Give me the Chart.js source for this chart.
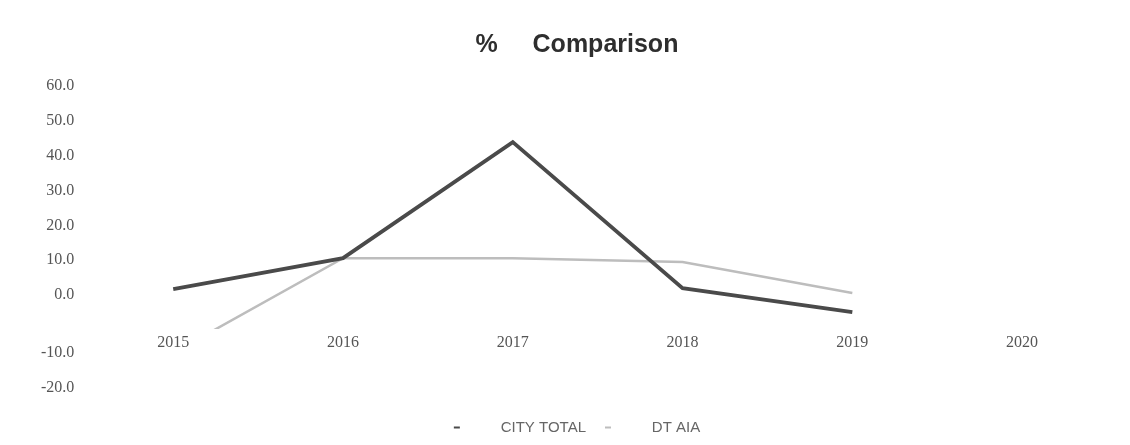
<!DOCTYPE html>
<html>
<head>
<meta charset="utf-8">
<title>% Comparison</title>
<script src="https://cdn.jsdelivr.net/npm/chart.js@4"></script>
<style>
    html, body { margin: 0; padding: 0; background: #fff; }
    #wrap { width: 1130px; height: 445px; }
</style>
</head>
<body>
<div id="wrap"><canvas id="comparisonChart"></canvas></div>
<script>
const years = ['2015', '2016', '2017', '2018', '2019', '2020'];
const cityTotal = [1.7, 10.6, 43.9, 2.0, -4.9, null];
const dtAia = [-16.6, 10.6, 10.6, 9.5, 0.6, null];

// value axis: stops and the text shown at each one
// (the two negative labels sit lower than a linear axis would put them)
const yTickStops = [60, 50, 40, 30, 20, 10, 0, -16.7, -26.7];
const yTickLabels = ['60.0', '50.0', '40.0', '30.0', '20.0', '10.0', '0.0', '-10.0', '-20.0'];

const ctx = document.getElementById('comparisonChart').getContext('2d');

const legendLabels = chart => {
    const items = Chart.defaults.plugins.legend.labels.generateLabels(chart);
    items.forEach(item => {
        item.text = '        ' + item.text;
        item.lineWidth = 0;
        item.fillStyle = item.strokeStyle;
    });
    return items;
};

new Chart(ctx, {
    type: 'line',
    data: {
        labels: years,
        datasets: [
            {
                label: 'CITY TOTAL',
                data: cityTotal,
                borderColor: '#4a4a4a',
                backgroundColor: '#4a4a4a',
                borderWidth: 3.8,
                pointRadius: 0,
                tension: 0
            },
            {
                label: 'DT AIA',
                data: dtAia,
                borderColor: '#bdbdbd',
                backgroundColor: '#bdbdbd',
                borderWidth: 2.5,
                pointRadius: 0,
                tension: 0,
                // stop the line where the plot band ends, above the lower labels
                clip: { left: false, top: false, right: false, bottom: -72 }
            }
        ]
    },
    options: {
        responsive: true,
        maintainAspectRatio: false,
        animation: false,
        layout: {
            padding: { left: 27, right: 3, top: 0, bottom: 0 }
        },
        scales: {
            x: {
                type: 'category',
                offset: true,
                position: { y: -10 },
                grid: { display: false, drawTicks: false },
                border: { display: false },
                ticks: {
                    padding: 3,
                    color: '#555',
                    font: { family: '"Liberation Serif", "Times New Roman", serif', size: 16 }
                }
            },
            y: {
                type: 'linear',
                min: -30.4,
                max: 60,
                grid: { display: false, drawTicks: false },
                border: { display: false },
                afterBuildTicks: axis => {
                    axis.ticks = yTickStops.map(v => ({ value: v }));
                },
                ticks: {
                    padding: 14,
                    autoSkip: false,
                    color: '#555',
                    font: { family: '"Liberation Serif", "Times New Roman", serif', size: 16 },
                    callback: value => yTickLabels[yTickStops.indexOf(value)]
                }
            },
            // empty right-hand axis, only there to leave a margin right of the plot
            spacer: {
                type: 'linear',
                position: 'right',
                grid: { display: false, drawTicks: false },
                border: { display: false },
                ticks: { display: false },
                afterFit: axis => {
                    axis.width = 20;
                }
            }
        },
        plugins: {
            title: {
                display: true,
                text: '%     Comparison',
                color: '#2e2e2e',
                font: { family: '"Liberation Sans", Arial, sans-serif', size: 25, weight: 'bold' },
                padding: { top: 30, bottom: 26 }
            },
            legend: {
                position: 'bottom',
                labels: {
                    boxWidth: 6,
                    boxHeight: 2,
                    padding: 19,
                    color: '#666',
                    font: { family: '"Liberation Sans", Arial, sans-serif', size: 15 },
                    generateLabels: legendLabels
                }
            },
            tooltip: { enabled: false }
        }
    }
});
</script>
</body>
</html>
